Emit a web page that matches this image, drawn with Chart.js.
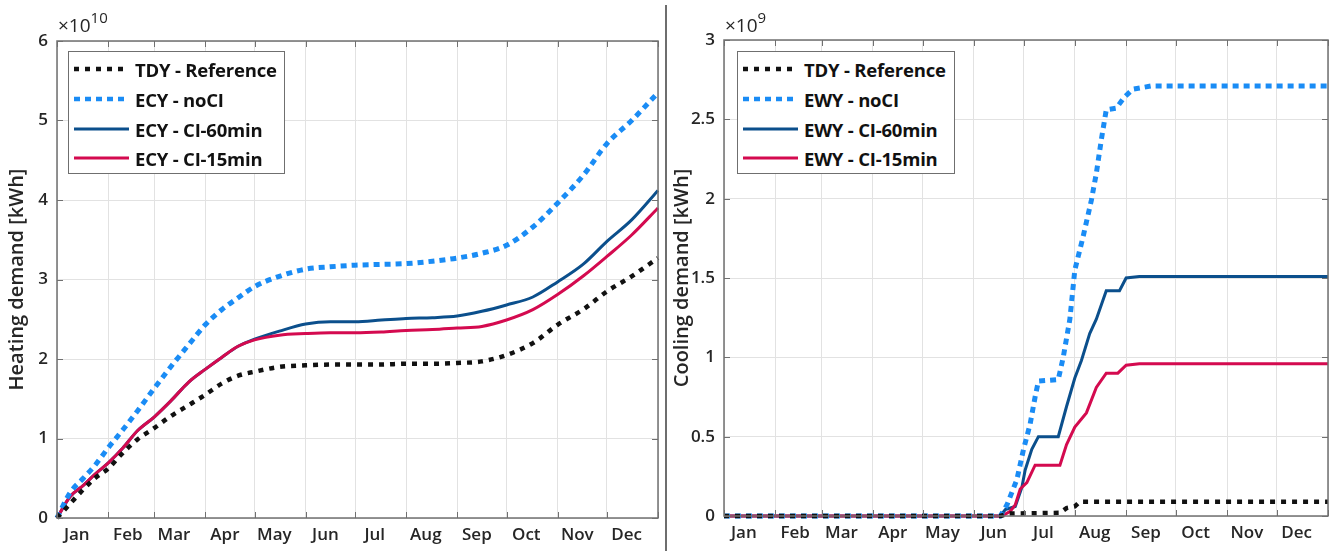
<!DOCTYPE html>
<html>
<head>
<meta charset="utf-8">
<script src="https://cdn.jsdelivr.net/npm/chart.js@4.4.1/dist/chart.umd.min.js"></script>
<style>
  html, body { margin: 0; padding: 0; background: #fff; }
  body { width: 1336px; height: 551px; position: relative; overflow: hidden; font-family: "Open Sans", Lato, sans-serif; color: #262626; }
  canvas { position: absolute; top: 0; }
  #heatCanvas { left: 0; }
  #coolCanvas { left: 668px; }
  #divider { position: absolute; left: 665px; top: 5px; width: 2px; height: 546px; background: #6e6e6e; }
  .expo { position: absolute; top: 16px; font-size: 19px; line-height: 19px; color: #262626; white-space: nowrap; }
  .expo sup { font-size: 15px; vertical-align: baseline; position: relative; top: -9px; }
  .legend { position: absolute; top: 51px; height: 123px; border: 1px solid #6f6f6f; background: #fff; box-sizing: border-box; }
  .legend .row { position: absolute; left: 5px; height: 30px; display: flex; align-items: center; white-space: nowrap; }
  .legend svg { width: 55px; height: 10px; margin-right: 6px; }
  .legend span { font-weight: 700; font-size: 18.5px; color: #111; letter-spacing: -0.2px; }
</style>
</head>
<body>
<canvas id="heatCanvas" width="665" height="551"></canvas>
<canvas id="coolCanvas" width="668" height="551"></canvas>
<div id="divider"></div>
<div class="expo" style="left:58px">&times;10<sup>10</sup></div>
<div class="expo" style="left:725px">&times;10<sup>9</sup></div>
<div class="legend" id="heatLegend" style="left:68px; width:217px"></div>
<div class="legend" id="coolLegend" style="left:737px; width:218px"></div>

<script>
// months and their first day (day of year)
const months = ['Jan', 'Feb', 'Mar', 'Apr', 'May', 'Jun', 'Jul', 'Aug', 'Sep', 'Oct', 'Nov', 'Dec'];
const monthStartDays = [0, 31, 59, 90, 120, 151, 181, 212, 243, 273, 304, 334, 365];
const monthLabelDays = monthStartDays.slice(0, 12).map(d => d + 12);

// heating demand, cumulative, x 1e10 kWh
const heatDays = [0, 8, 16, 23, 31, 40, 49, 59, 69, 80, 90, 100, 110, 120, 135, 151, 166, 181, 197, 212, 228, 243, 258, 273, 289, 304, 320, 334, 349, 365];
const heatTDY = [0, 0.18, 0.36, 0.50, 0.62, 0.82, 0.99, 1.13, 1.28, 1.42, 1.55, 1.69, 1.79, 1.84, 1.90, 1.92, 1.93, 1.93, 1.93, 1.94, 1.94, 1.95, 1.97, 2.05, 2.20, 2.43, 2.63, 2.85, 3.04, 3.27];
const heatNoCI = [0, 0.32, 0.50, 0.66, 0.88, 1.11, 1.35, 1.63, 1.90, 2.18, 2.43, 2.62, 2.77, 2.91, 3.04, 3.13, 3.16, 3.18, 3.19, 3.20, 3.23, 3.27, 3.33, 3.43, 3.66, 3.96, 4.32, 4.71, 5.00, 5.35];
const heatCI60 = [0, 0.27, 0.41, 0.55, 0.69, 0.88, 1.10, 1.27, 1.47, 1.71, 1.87, 2.02, 2.16, 2.25, 2.35, 2.44, 2.47, 2.47, 2.49, 2.51, 2.52, 2.54, 2.60, 2.68, 2.78, 2.97, 3.20, 3.48, 3.75, 4.12];
const heatCI15 = [0, 0.27, 0.41, 0.55, 0.69, 0.88, 1.10, 1.27, 1.47, 1.71, 1.87, 2.02, 2.16, 2.24, 2.30, 2.32, 2.33, 2.33, 2.34, 2.36, 2.37, 2.39, 2.41, 2.49, 2.62, 2.81, 3.05, 3.29, 3.56, 3.90];

// cooling demand, cumulative, x 1e9 kWh
const coolTDYDays = [0, 167, 172, 203, 207, 212, 215, 365];
const coolTDY = [0, 0, 0.015, 0.02, 0.05, 0.06, 0.09, 0.09];
const coolNoCIDays = [0, 167, 171, 177, 181, 185, 188, 190, 202, 205, 209, 212, 217, 222, 225, 228, 231, 237, 242, 247, 258, 365];
const coolNoCI = [0, 0, 0.07, 0.23, 0.42, 0.58, 0.75, 0.85, 0.86, 1.00, 1.24, 1.55, 1.76, 1.99, 2.16, 2.37, 2.56, 2.57, 2.64, 2.69, 2.71, 2.71];
const coolCI60Days = [0, 167, 170, 176, 180, 182, 186, 190, 202, 207, 212, 216, 221, 225, 231, 239, 243, 251, 365];
const coolCI60 = [0, 0, 0.04, 0.06, 0.18, 0.29, 0.42, 0.50, 0.50, 0.69, 0.87, 0.98, 1.15, 1.24, 1.42, 1.42, 1.50, 1.51, 1.51];
const coolCI15Days = [0, 168, 173, 176, 179, 183, 188, 203, 207, 212, 219, 225, 231, 238, 243, 251, 365];
const coolCI15 = [0, 0, 0.03, 0.07, 0.17, 0.21, 0.32, 0.32, 0.45, 0.56, 0.65, 0.81, 0.90, 0.90, 0.95, 0.96, 0.96];

const styles = {
  tdy:  { color: '#111111', width: 4.5, dash: [5, 6], order: 0 },
  noci: { color: '#1a8cf5', width: 5, dash: [6, 5], order: 1 },
  ci60: { color: '#0b4f8c', width: 3, dash: [], order: 3 },
  ci15: { color: '#d40a4f', width: 3, dash: [], order: 2 }
};

const pts = (xs, ys) => xs.map((x, i) => ({ x: x, y: ys[i] }));

function makeSet(label, data, st, smooth) {
  return {
    label: label,
    data: data,
    borderColor: st.color,
    borderWidth: st.width,
    borderDash: st.dash,
    pointRadius: 0,
    fill: false,
    order: st.order,
    clip: false,
    cubicInterpolationMode: smooth ? 'monotone' : 'default',
    tension: 0
  };
}

const boxPlugin = {
  id: 'matlabBox',
  afterDatasetsDraw(chart) {
    const { ctx, chartArea: a, scales: { x, y } } = chart;
    ctx.save();
    ctx.strokeStyle = '#707070';
    ctx.lineWidth = 1.5;
    ctx.setLineDash([]);
    ctx.strokeRect(a.left, a.top, a.right - a.left, a.bottom - a.top);
    ctx.beginPath();
    monthStartDays.forEach(d => {
      const px = Math.round(x.getPixelForValue(d)) + 0.5;
      ctx.moveTo(px, a.bottom); ctx.lineTo(px, a.bottom - 6);
      ctx.moveTo(px, a.top); ctx.lineTo(px, a.top + 6);
    });
    y.ticks.forEach(t => {
      const py = Math.round(y.getPixelForValue(t.value)) + 0.5;
      ctx.moveTo(a.left, py); ctx.lineTo(a.left + 6, py);
      ctx.moveTo(a.right, py); ctx.lineTo(a.right - 6, py);
    });
    ctx.lineWidth = 1;
    ctx.stroke();
    ctx.restore();
  }
};

const tickFont = { family: 'Open Sans', size: 17, weight: 600 };

function makeOptions(yMax, yStep, yTitle, yWidth, xHeight, pad, titlePad) {
  return {
    responsive: false,
    animation: false,
    layout: { padding: pad },
    plugins: { legend: { display: false }, tooltip: { enabled: false } },
    scales: {
      x: {
        type: 'linear',
        min: 0,
        max: 365,
        afterBuildTicks: s => {
          s.ticks = monthStartDays.concat(monthLabelDays).sort((a, b) => a - b).map(v => ({ value: v }));
        },
        afterFit: s => { s.height = xHeight; },
        grid: {
          drawTicks: false,
          lineWidth: 1,
          color: c => (c.tick && monthStartDays.includes(c.tick.value)) ? '#e2e2e2' : 'rgba(0,0,0,0)'
        },
        border: { display: false },
        ticks: {
          autoSkip: false,
          maxRotation: 0,
          padding: 7,
          color: '#262626',
          font: tickFont,
          callback: v => {
            const i = monthLabelDays.indexOf(v);
            return i >= 0 ? months[i] : '';
          }
        }
      },
      y: {
        min: 0,
        max: yMax,
        afterFit: s => { s.width = yWidth; },
        grid: { drawTicks: false, color: '#e2e2e2', lineWidth: 1 },
        border: { display: false },
        ticks: {
          stepSize: yStep,
          padding: 9,
          color: '#262626',
          font: tickFont,
          callback: v => String(Math.round(v * 10) / 10)
        },
        title: {
          display: true,
          text: yTitle,
          color: '#262626',
          font: { family: 'Open Sans', size: 20, weight: 600 },
          padding: { top: titlePad, bottom: 0 }
        }
      }
    }
  };
}

const heatSets = [
  makeSet('TDY - Reference', pts(heatDays, heatTDY), styles.tdy, true),
  makeSet('ECY - noCI', pts(heatDays, heatNoCI), styles.noci, true),
  makeSet('ECY - CI-60min', pts(heatDays, heatCI60), styles.ci60, true),
  makeSet('ECY - CI-15min', pts(heatDays, heatCI15), styles.ci15, true)
];

const coolSets = [
  makeSet('TDY - Reference', pts(coolTDYDays, coolTDY), styles.tdy, false),
  makeSet('EWY - noCI', pts(coolNoCIDays, coolNoCI), styles.noci, false),
  makeSet('EWY - CI-60min', pts(coolCI60Days, coolCI60), styles.ci60, false),
  makeSet('EWY - CI-15min', pts(coolCI15Days, coolCI15), styles.ci15, false)
];

new Chart(document.getElementById('heatCanvas'), {
  type: 'line',
  data: { datasets: heatSets },
  options: makeOptions(6, 1, 'Heating demand [kWh]', 57, 33, { left: 0, top: 41, right: 4, bottom: 0 }, 5),
  plugins: [boxPlugin]
});

new Chart(document.getElementById('coolCanvas'), {
  type: 'line',
  data: { datasets: coolSets },
  options: makeOptions(3, 0.5, 'Cooling demand [kWh]', 56, 35, { left: 0, top: 40, right: 8, bottom: 0 }, 2),
  plugins: [boxPlugin]
});

// boxed legend inside the axes, like the original figure
function buildLegend(id, sets) {
  const box = document.getElementById(id);
  const centers = [17, 47, 77, 106];
  sets.forEach((ds, i) => {
    const row = document.createElement('div');
    row.className = 'row';
    row.style.top = (centers[i] - 15) + 'px';
    const dash = ds.borderDash.length ? ds.borderDash.join(' ') : 'none';
    row.innerHTML =
      '<svg viewBox="0 0 55 10"><line x1="0" y1="5" x2="55" y2="5" stroke="' + ds.borderColor +
      '" stroke-width="' + Math.min(ds.borderWidth, 4.5) + '" stroke-dasharray="' + dash + '"/></svg>' +
      '<span>' + ds.label + '</span>';
    box.appendChild(row);
  });
}
buildLegend('heatLegend', heatSets);
buildLegend('coolLegend', coolSets);
</script>
</body>
</html>
